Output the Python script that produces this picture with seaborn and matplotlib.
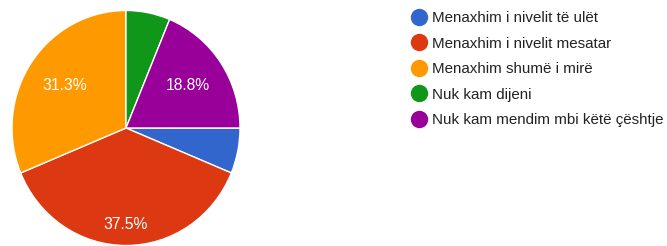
import matplotlib
matplotlib.use("Agg")
import seaborn as sns
from matplotlib import pyplot as plt
from matplotlib.lines import Line2D
import numpy as np

# answers (counts out of 16 responses)
labels = ["Menaxhim i nivelit të ulët",
          "Menaxhim i nivelit mesatar",
          "Menaxhim shumë i mirë",
          "Nuk kam dijeni",
          "Nuk kam mendim mbi këtë çështje"]
counts = [1, 6, 5, 1, 3]
colors = ["#3366cc", "#dc3912", "#ff9900", "#109618", "#990099"]

sns.set_theme(style="white")
plt.rcParams['font.family'] = ['Liberation Sans', 'DejaVu Sans']

fig = plt.figure(figsize=(6.67, 2.46), dpi=100)
W, H = 667, 246
cx, cy, rx, ry = 126, 128, 114, 117.5   # screenshot is a touch stretched vertically
ax = fig.add_axes([(cx - rx) / W, (H - cy - ry) / H, 2 * rx / W, 2 * ry / H])

def fmt(p):
    # round half up, so 31.25 -> 31.3
    if p < 10:
        return ""
    return f"{np.floor(p * 10 + 0.5 + 1e-6) / 10:.1f}%"

wedges, texts, autotexts = ax.pie(
    counts, colors=colors, startangle=0, counterclock=False,
    autopct=fmt, pctdistance=0.72,
    wedgeprops=dict(edgecolor="white", linewidth=1),
    textprops=dict(color="white", fontsize=11.3))

# nudge the labels like google forms does
dist = [0.7, 0.82, 0.65, 0.7, 0.65]
for w, t, d in zip(wedges, autotexts, dist):
    ang = np.deg2rad((w.theta1 + w.theta2) / 2)
    t.set_position((d * np.cos(ang), d * np.sin(ang)))

ax.set_aspect("auto")
ax.set_xlim(-1, 1)
ax.set_ylim(-1, 1)
ax.axis("off")

handles = [Line2D([0], [0], marker="o", linestyle="", markersize=11.5,
                  markerfacecolor=c, markeredgecolor=c) for c in colors]
fig.legend(handles, labels, loc="upper left", bbox_to_anchor=(405 / W, 1 - 5 / H),
           frameon=False, fontsize=10.9, labelspacing=0.76, handletextpad=0.3,
           handlelength=1.1, borderaxespad=0, labelcolor="#222222")

fig.savefig("out.png", dpi=100)
